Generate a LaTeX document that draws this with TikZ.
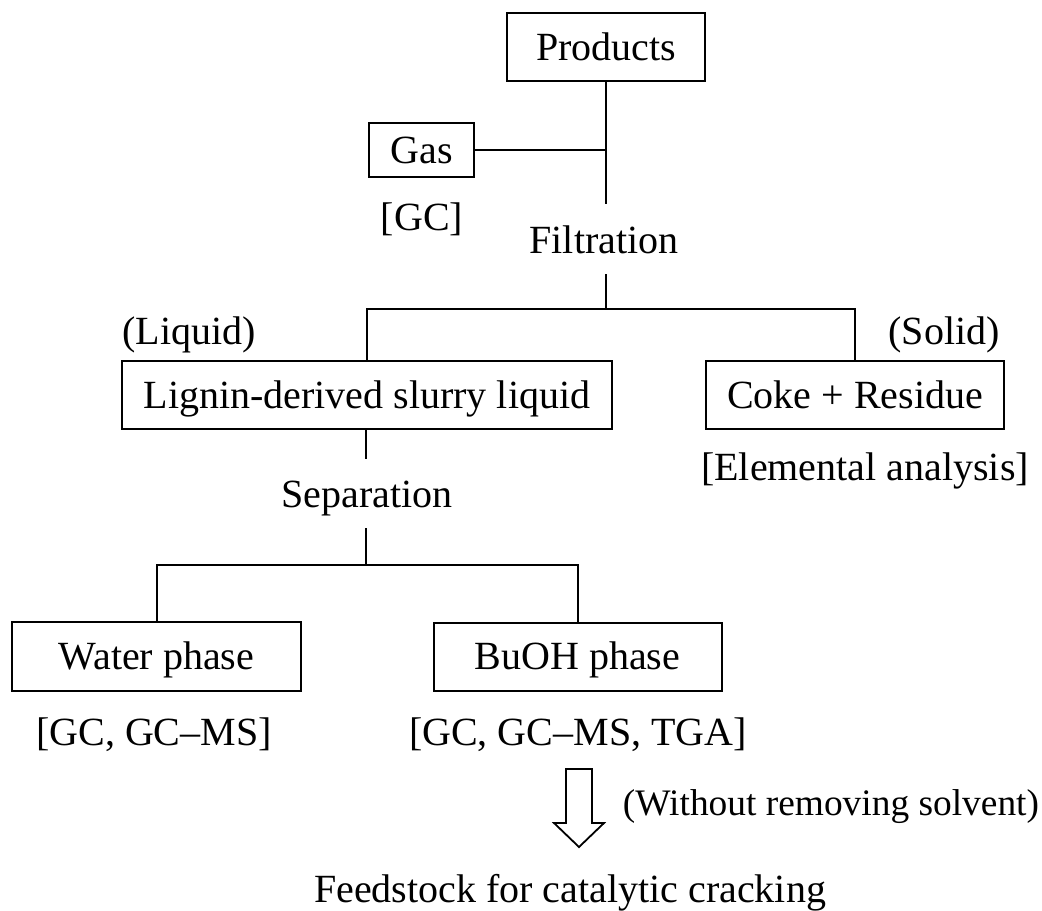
\documentclass[tikz,border=0pt]{standalone}
\usepackage{fontspec}
\setmainfont{Liberation Serif}
\usepackage{tikz}

\tikzset{
  box/.style={draw, line width=1pt, inner sep=0pt, minimum height=34pt,
    text height=13.3pt, text depth=0pt},
  lbl/.style={inner sep=0pt, anchor=base},
  gap lbl/.style={anchor=base, inner xsep=0pt, inner ysep=10.5pt, text depth=0pt},
  link/.style={line width=1pt}
}

\begin{document}
\begin{tikzpicture}[x=0.5pt,y=-0.5pt,font=\fontsize{20}{24}\selectfont]
\useasboundingbox (0,0) rectangle (1042,910);
% boxes
\node[box, minimum width=99pt] (prod) at (606,47) {Products};
\node[box, minimum width=52.5pt, minimum height=27pt] (gas) at (421.5,150) {Gas};
\node[box, minimum width=245pt] (lignin) at (367,395) {Lignin-derived slurry liquid};
\node[box, minimum width=149pt] (coke) at (855,395) {Coke + Residue};
\node[box, minimum width=144.5pt, minimum height=34.5pt] (water) at (156.5,656.5) {Water phase};
\node[box, minimum width=144pt] (buoh) at (577.5,656.5) {BuOH phase};
% texts
\node[lbl] (gc) at (422,230) {[GC]};
\node[gap lbl] (filt) at (604,253) {Filtration};
\node[lbl] (liq) at (189,344) {(Liquid)};
\node[lbl] (sol) at (944,344) {(Solid)};
\node[lbl] (elem) at (865,480) {[Elemental analysis]};
\node[gap lbl] (sep) at (367,507) {Separation};
\node[lbl] (wgc) at (154,745) {[GC, GC--MS]};
\node[lbl] (bgc) at (578,745) {[GC, GC--MS, TGA]};
\node[lbl, font=\fontsize{18.7}{22}\selectfont] (wo) at (831,815) {(Without removing solvent)};
\node[lbl] (feed) at (570,902) {Feedstock for catalytic cracking};
% joints
\coordinate (j1) at (606,150);
\coordinate (j2) at (606,309);
\coordinate (j3) at (366,565);
% lines
\draw[link] (prod.south) -- (j1) -- (filt.north -| j1);
\draw[link] (gas) -- (j1);
\draw[link] (filt.south -| j1) -- (j2);
\draw[link] (lignin.north) -- (lignin.north |- j2) -- (coke.north |- j2) -- (coke.north);
\draw[link] (lignin.south -| j3) -- (sep.north -| j3);
\draw[link] (sep.south -| j3) -- (j3);
\draw[link] (water.north) -- (water.north |- j3) -- (buoh.north |- j3) -- (buoh.north);
% hollow arrow
\coordinate (arr) at (579,769);
\draw[line width=0.9pt] (arr) ++(-13,0) -- ++(26,0) -- ++(0,54) -- ++(12,0)
  -- (579,847) -- (554,823) -- ++(12,0) -- cycle;
\end{tikzpicture}
\end{document}
